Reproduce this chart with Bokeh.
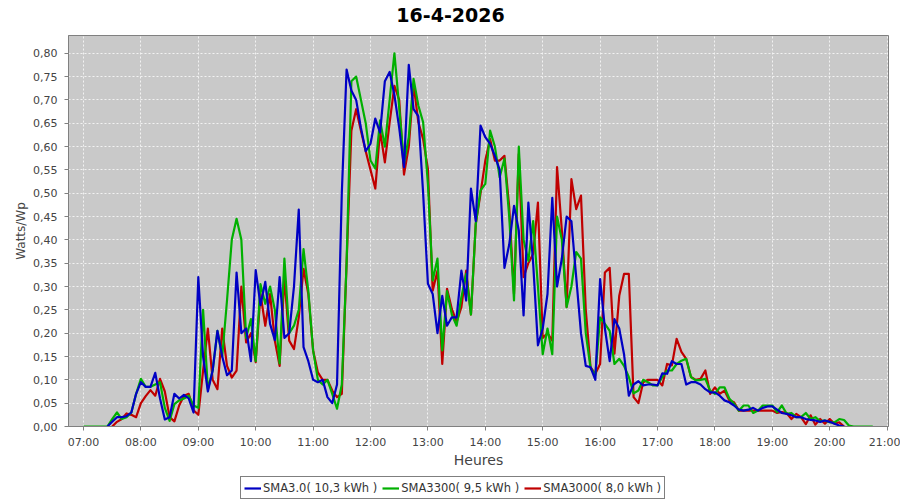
import numpy as np
from bokeh.plotting import figure
from bokeh.layouts import column
from bokeh.models import (Range1d, FixedTicker, CustomJSTickFormatter, Legend, LegendItem,
                          ColumnDataSource, Label)
from bokeh.embed import file_html
from bokeh.resources import INLINE

nan = float("nan")

# ---- data: 5-minute samples from 07:00 to 20:45 (Watts/Wp) ----
title_text = "16-4-2026"
start_time = "07:00"
step_minutes = 5

sma30 = [  # SMA3.0 (blue)
    nan, nan, nan, nan, nan, 0.0, 0.01, 0.02, 0.02, 0.022, 0.03, 0.07,
    0.095, 0.085, 0.085, 0.115, 0.06, 0.015, 0.02, 0.07, 0.06, 0.068, 0.06, 0.03,
    0.32, 0.15, 0.075, 0.12, 0.205, 0.15, 0.11, 0.12, 0.33, 0.20, 0.21, 0.14,
    0.335, 0.26, 0.31, 0.22, 0.185, 0.32, 0.19, 0.20, 0.30, 0.465, 0.17, 0.14,
    0.10, 0.095, 0.10, 0.063, 0.05, 0.09, 0.50, 0.765, 0.72, 0.70, 0.64, 0.59,
    0.606, 0.66, 0.63, 0.74, 0.76, 0.71, 0.64, 0.556, 0.775, 0.68, 0.665, 0.50,
    0.306, 0.284, 0.20, 0.28, 0.216, 0.234, 0.234, 0.334, 0.27, 0.51, 0.44, 0.645,
    0.62, 0.606, 0.58, 0.55, 0.34, 0.39, 0.473, 0.42, 0.238, 0.48, 0.35, 0.174,
    0.21, 0.284, 0.49, 0.30, 0.36, 0.45, 0.44, 0.32, 0.20, 0.13, 0.127, 0.10,
    0.316, 0.21, 0.14, 0.23, 0.21, 0.155, 0.066, 0.09, 0.097, 0.088, 0.09, 0.09,
    0.088, 0.114, 0.113, 0.14, 0.134, 0.134, 0.09, 0.095, 0.095, 0.09, 0.08, 0.073,
    0.073, 0.066, 0.056, 0.052, 0.045, 0.036, 0.034, 0.036, 0.04, 0.034, 0.04, 0.043,
    0.043, 0.036, 0.029, 0.027, 0.024, 0.02, 0.02, 0.016, 0.014, 0.013, 0.01, 0.013,
    0.01, 0.006, 0.002, 0.0, nan, nan, nan, nan, nan, nan,
]

sma3300 = [  # SMA3300 (green)
    0.0, 0.0, 0.0, 0.0, 0.0, 0.0, 0.016, 0.03, 0.016, 0.02, 0.03, 0.07,
    0.102, 0.085, 0.085, 0.09, 0.095, 0.04, 0.012, 0.048, 0.056, 0.06, 0.066, 0.045,
    0.04, 0.25, 0.08, 0.12, 0.205, 0.15, 0.27, 0.40, 0.445, 0.40, 0.19, 0.23,
    0.14, 0.305, 0.263, 0.30, 0.25, 0.135, 0.36, 0.20, 0.216, 0.25, 0.38, 0.29,
    0.163, 0.10, 0.09, 0.10, 0.07, 0.038, 0.09, 0.35, 0.74, 0.75, 0.70, 0.65,
    0.57, 0.553, 0.656, 0.60, 0.70, 0.80, 0.684, 0.563, 0.62, 0.745, 0.688, 0.652,
    0.52, 0.313, 0.36, 0.163, 0.29, 0.24, 0.216, 0.277, 0.327, 0.24, 0.434, 0.506,
    0.52, 0.634, 0.60, 0.534, 0.574, 0.45, 0.27, 0.60, 0.40, 0.355, 0.44, 0.30,
    0.155, 0.21, 0.155, 0.45, 0.40, 0.256, 0.30, 0.374, 0.36, 0.20, 0.125, 0.11,
    0.234, 0.22, 0.205, 0.134, 0.145, 0.13, 0.106, 0.071, 0.077, 0.10, 0.095, 0.088,
    0.088, 0.106, 0.12, 0.12, 0.134, 0.141, 0.145, 0.106, 0.099, 0.10, 0.102, 0.077,
    0.07, 0.084, 0.084, 0.06, 0.049, 0.034, 0.045, 0.045, 0.029, 0.034, 0.045, 0.045,
    0.045, 0.031, 0.045, 0.027, 0.029, 0.02, 0.02, 0.029, 0.016, 0.02, 0.011, 0.013,
    0.009, 0.009, 0.016, 0.014, 0.002, 0.0, 0.0, 0.0, 0.0, 0.0,
]

sma3000 = [  # SMA3000 (red)
    nan, nan, nan, nan, nan, nan, 0.0, 0.01, 0.016, 0.028, 0.025, 0.02,
    0.05, 0.065, 0.078, 0.066, 0.102, 0.075, 0.02, 0.011, 0.045, 0.066, 0.07, 0.035,
    0.025, 0.12, 0.21, 0.10, 0.08, 0.21, 0.13, 0.105, 0.12, 0.30, 0.18, 0.20,
    0.138, 0.284, 0.216, 0.284, 0.184, 0.13, 0.32, 0.184, 0.166, 0.234, 0.338, 0.284,
    0.163, 0.116, 0.10, 0.10, 0.077, 0.063, 0.07, 0.35, 0.634, 0.68, 0.634, 0.59,
    0.55, 0.51, 0.634, 0.566, 0.652, 0.73, 0.70, 0.54, 0.60, 0.734, 0.652, 0.616,
    0.552, 0.291, 0.334, 0.134, 0.295, 0.252, 0.224, 0.256, 0.334, 0.24, 0.434, 0.50,
    0.57, 0.616, 0.57, 0.57, 0.58, 0.47, 0.284, 0.584, 0.32, 0.35, 0.37, 0.48,
    0.19, 0.20, 0.184, 0.556, 0.42, 0.256, 0.53, 0.466, 0.495, 0.25, 0.127, 0.113,
    0.134, 0.33, 0.34, 0.156, 0.28, 0.327, 0.327, 0.063, 0.05, 0.095, 0.10, 0.10,
    0.10, 0.088, 0.134, 0.131, 0.188, 0.16, 0.145, 0.106, 0.10, 0.102, 0.12, 0.07,
    0.084, 0.07, 0.077, 0.056, 0.052, 0.034, 0.034, 0.034, 0.034, 0.034, 0.034, 0.034,
    0.034, 0.029, 0.031, 0.029, 0.016, 0.027, 0.02, 0.005, 0.024, 0.004, 0.016, 0.006,
    0.016, 0.006, 0.009, 0.0, nan, nan, nan, nan, nan, nan,
]

series_names = ["SMA3.0( 10,3 kWh )", "SMA3300( 9,5 kWh )", "SMA3000( 8,0 kWh )"]
series_colors = ["#0000c4", "#00b000", "#c00000"]
y_ticks = [round(i * 0.05, 2) for i in range(17)]
x_ticks = list(range(7, 22))

h0, m0 = map(int, start_time.split(":"))
n = len(sma30)
hours = (h0 * 60 + m0 + step_minutes * np.arange(n)) / 60.0
data = [sma30, sma3300, sma3000]
sources = [ColumnDataSource(dict(x=hours, y=np.array(d, dtype=float))) for d in data]


def strip(height):
    f = figure(width=900, height=height, output_backend="svg", toolbar_location=None,
               x_axis_type=None, y_axis_type=None, min_border=0,
               x_range=Range1d(0, 1), y_range=Range1d(0, 1))
    f.outline_line_color = None
    f.background_fill_color = "white"
    f.border_fill_color = "white"
    f.xgrid.visible = False
    f.ygrid.visible = False
    return f


# ---- title strip ----
pt = strip(27)
pt.add_layout(Label(x=382, y=13, x_units="screen", y_units="screen", text=title_text,
                    text_align="center", text_baseline="middle", text_font="DejaVu Sans",
                    text_font_style="bold", text_font_size="19px", text_color="black"))

# ---- main chart ----
p = figure(width=900, height=447, output_backend="svg", toolbar_location=None,
           x_range=Range1d(6.7387, 21.024), y_range=Range1d(0, 0.838),
           min_border_left=68, min_border_right=12, min_border_top=8, min_border_bottom=48)

p.border_fill_color = "white"
p.background_fill_color = "#c9c9c9"
p.outline_line_color = "#808080"
p.outline_line_width = 1

for g in (p.xgrid, p.ygrid):
    g.grid_line_color = "#f2f2f2"
    g.grid_line_dash = "2 2"
    g.grid_line_width = 1
p.xgrid.ticker = FixedTicker(ticks=x_ticks)
p.ygrid.ticker = FixedTicker(ticks=y_ticks)

for ax in (p.xaxis[0], p.yaxis[0]):
    ax.axis_line_color = "#808080"
    ax.major_tick_line_color = "#808080"
    ax.minor_tick_line_color = None
    ax.major_tick_in = 0
    ax.major_tick_out = 4
    ax.major_label_text_font = "DejaVu Sans"
    ax.major_label_text_font_size = "11px"
    ax.major_label_text_color = "#444444"
    ax.axis_label_text_font = "DejaVu Sans"
    ax.axis_label_text_font_style = "normal"
    ax.axis_label_text_color = "#444444"

p.xaxis.ticker = FixedTicker(ticks=x_ticks)
p.xaxis.formatter = CustomJSTickFormatter(
    code="const h = Math.round(tick); return (h < 10 ? '0' : '') + h + ':00';")
p.xaxis.axis_label = "Heures"
p.xaxis.axis_label_text_font_size = "14px"
p.xaxis.major_label_standoff = 5
p.xaxis.axis_label_standoff = 0

p.yaxis.ticker = FixedTicker(ticks=y_ticks)
p.yaxis.formatter = CustomJSTickFormatter(code="return tick.toFixed(2).replace('.', ',');")
p.yaxis.axis_label = "Watts/Wp"
p.yaxis.axis_label_text_font_size = "12px"
p.yaxis.major_label_standoff = 7
p.yaxis.axis_label_standoff = 2

# red drawn first, blue on top
for i in (2, 1, 0):
    p.line("x", "y", source=sources[i], line_color=series_colors[i], line_width=2.2,
           line_join="round")

# ---- legend strip ----
pl = strip(26)
key_renderers = [pl.line("x", "y", source=sources[i], line_color=series_colors[i], line_width=2.2)
                 for i in range(3)]
legend = Legend(items=[LegendItem(label=series_names[i], renderers=[key_renderers[i]]) for i in range(3)],
                orientation="horizontal", location=(172, 1))
legend.label_text_font = "DejaVu Sans"
legend.label_text_font_size = "11.5px"
legend.label_text_color = "#333333"
legend.glyph_width = 17
legend.glyph_height = 10
legend.label_standoff = 2
legend.spacing = 5
legend.padding = 3
legend.margin = 0
legend.border_line_color = "black"
legend.border_line_width = 1
legend.background_fill_color = "white"
legend.background_fill_alpha = 1
legend.label_height = 15
pl.add_layout(legend, "center")

layout = column(pt, p, pl, spacing=0)
open("out.html", "w").write(file_html(layout, INLINE))
